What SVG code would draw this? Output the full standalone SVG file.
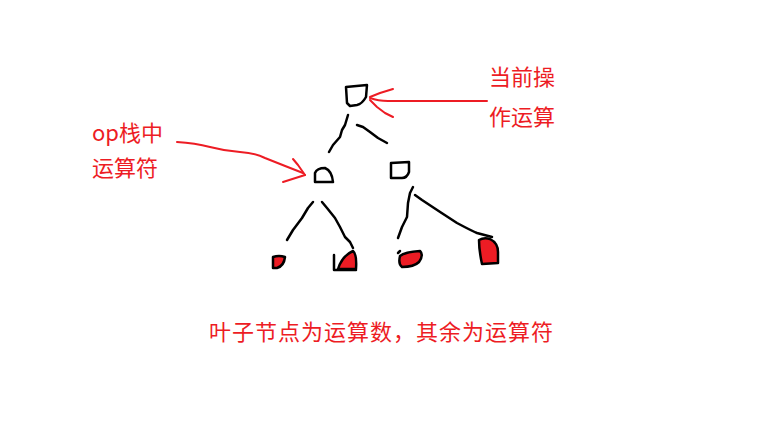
<svg xmlns="http://www.w3.org/2000/svg" width="765" height="425" viewBox="0 0 765 425">
<style>
.ink{fill:none;stroke:#000;stroke-width:2.5;stroke-linecap:round;stroke-linejoin:round}
.leaf{fill:#ed1c24;stroke:#000;stroke-width:2.5;stroke-linejoin:round}
.red{fill:none;stroke:#ed1c24;stroke-width:2;stroke-linecap:round;stroke-linejoin:round}
.lbl{fill:#ed1c24;font-family:"Noto Sans CJK SC","Microsoft YaHei",sans-serif;font-size:22px}
</style>
<rect width="765" height="425" fill="#fff"/>
<g id="connectors">
<polyline class="ink" points="348,115 345,125 342,130 340,137 333,145 329,152"/>
<polyline class="ink" points="357,125 363,127 370,132 378,138 387,143"/>
<polyline class="ink" points="313,202 308,208 302,218 293,230 287,240"/>
<polyline class="ink" points="322,202 327,208 335,218 340,227 345,237 350,242 353,248"/>
<polyline class="ink" points="413,187 410,193 408,203 407,217 402,227 398,238"/>
<path class="ink" d="M415,195 L422,200 Q440,212 457,223 Q472,231 477,233 L492,237"/>
</g>
<g id="root-node"><path class="ink" d="M346,87 L367,85 L366,97 Q362,104 357,105 L350,106 L347,103 Z"/></g>
<g id="mid-left-node"><path class="ink" d="M315,182 L315,173 Q317,168 325,168 Q332,171 333,182 Z"/></g>
<g id="mid-right-node"><path class="ink" d="M391,163 L409,162 L409,172 Q407,178 402,178 L391,178 Z"/></g>
<g id="leaf-1"><path class="leaf" d="M273,268 L273,257 Q279,255 285,257 Q284,266 277,268 Z"/></g>
<g id="leaf-2"><path class="leaf" d="M338,269 Q342,256 353,251 Q357,254 356,269 Z"/><polyline class="ink" points="334,255 334,270 356,270"/></g>
<g id="leaf-3"><path class="leaf" d="M400,256 Q405,252 420,251 Q424,255 419,262 Q414,267 402,267 Q398,264 400,256 Z"/><polyline class="ink" points="398,253 400,251"/></g>
<g id="leaf-4"><path class="leaf" d="M479,240 Q484,237 490,239 Q498,243 498,252 L498,263 L482,264 Q479,250 479,240 Z"/></g>
<g id="arrow-current">
<path class="red" d="M370,98 Q378,101 388,101 L487,101"/>
<polyline class="red" points="393,89 380,93 370,97"/>
<polyline class="red" points="370,100 377,107 385,113 393,117"/>
</g>
<g id="arrow-op">
<path class="red" d="M177,142 Q195,143 210,147 Q225,151 240,152 Q255,153 265,158 Q285,166 303,173"/>
<polyline class="red" points="293,159 298,165 305,175"/>
<polyline class="red" points="283,182 305,175"/>
</g>
<g id="label-current"><text class="lbl" x="489" y="85">当前操</text><text class="lbl" x="489" y="125">作运算</text></g>
<g id="label-op"><text class="lbl" x="92" y="141">op栈中</text><text class="lbl" x="92" y="176">运算符</text></g>
<g id="caption"><text class="lbl" x="209" y="340" letter-spacing="1">叶子节点为运算数，其余为运算符</text></g>
</svg>
